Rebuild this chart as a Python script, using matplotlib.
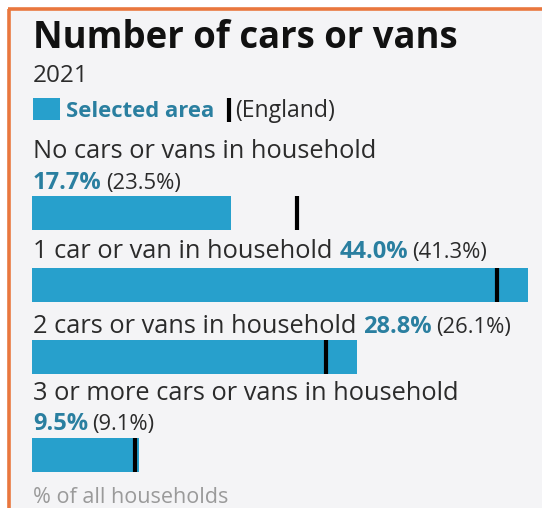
import matplotlib
matplotlib.use("Agg")
import matplotlib.pyplot as plt
from matplotlib.patches import Rectangle

# Data: share of households by number of cars or vans, 2021
categories = [
    "No cars or vans in household",
    "1 car or van in household",
    "2 cars or vans in household",
    "3 or more cars or vans in household",
]
area_pct = [17.7, 44.0, 28.8, 9.5]
england_pct = [23.5, 41.3, 26.1, 9.1]
# whether the value sits on its own line under the label
value_on_new_line = [True, False, False, True]

title = "Number of cars or vans"
subtitle = "2021"
legend_area = "Selected area"
legend_england = "(England)"
footer = "% of all households"

BAR_BLUE = "#27a0cc"
TEXT_TEAL = "#2a7fa0"
TEXT_DARK = "#2b2b2b"
BG = "#f4f4f6"
ORANGE = "#e9773e"

W, H = 542, 508
fig = plt.figure(figsize=(W / 100, H / 100), dpi=100)
fig.patch.set_facecolor("white")
ax = fig.add_axes([0, 0, 1, 1])
# x axis in percent (32 px left margin, 11.27 px per percentage point),
# y axis in pixels from the top
px_per_pct = 11.27
x0 = 32
ax.set_xlim(-x0 / px_per_pct, (W - x0) / px_per_pct)
ax.set_ylim(H, 0)
ax.axis("off")

fx = lambda px: (px - x0) / px_per_pct

# panel background and orange frame
ax.add_patch(Rectangle((fx(10), 10), (W - 10) / px_per_pct, H, facecolor=BG,
                       edgecolor="none", zorder=0.5))
ax.plot([fx(9.5), fx(9.5)], [H, 8.5], color=ORANGE, lw=2.6, zorder=1,
        solid_capstyle="butt")
ax.plot([fx(8.2), fx(W)], [8.5, 8.5], color=ORANGE, lw=2.6, zorder=1,
        solid_capstyle="butt")

FONT = ["Open Sans", "DejaVu Sans"]
tx = fx(33)

ax.text(tx, 48, title, fontsize=26.3, fontweight="bold", color="#111111",
        family=FONT, va="baseline", ha="left")
ax.text(tx, 82, subtitle, fontsize=17.5, color=TEXT_DARK, family=FONT,
        va="baseline", ha="left")

# legend
ax.add_patch(Rectangle((tx, 98), 27 / px_per_pct, 22, facecolor=BAR_BLUE,
                       edgecolor="none", zorder=2))
ax.text(fx(66), 117, legend_area, fontsize=15.8, fontweight="bold",
        color=TEXT_TEAL, family=FONT, va="baseline", ha="left")
ax.plot([fx(229), fx(229)], [98, 122], color="black", lw=3,
        solid_capstyle="butt", zorder=3)
ax.text(fx(235), 117, legend_england, fontsize=16.6, color=TEXT_DARK,
        family=FONT, va="baseline", ha="left")

# rows: label baseline, value baseline, bar top
label_base = [158, 258, 333, 400]
value_base = [189, 258, 333, 430]
bar_top = [196, 268, 340, 438]
bar_h = 34

LABEL_FS = 18.3
VAL_FS = 17
PAREN_FS = 15.8

for i, cat in enumerate(categories):
    lab = ax.text(tx, label_base[i], cat, fontsize=LABEL_FS, color=TEXT_DARK,
                  family=FONT, va="baseline", ha="left")
    val_str = f"{area_pct[i]:.1f}%"
    par_str = f"({england_pct[i]:.1f}%)"
    if value_on_new_line[i]:
        v = ax.text(tx, value_base[i], val_str, fontsize=VAL_FS,
                    fontweight="bold", color=TEXT_TEAL, family=FONT,
                    va="baseline", ha="left")
    else:
        v = ax.annotate(val_str, xy=(1, 0), xycoords=lab,
                        xytext=(5, 0), textcoords="offset points",
                        fontsize=VAL_FS, fontweight="bold", color=TEXT_TEAL,
                        family=FONT, va="bottom", ha="left")
    ax.annotate(par_str, xy=(1, 0), xycoords=v, fontsize=PAREN_FS,
                color=TEXT_DARK, family=FONT, va="bottom", ha="left",
                xytext=(3, 0.5), textcoords="offset points")

    yc = bar_top[i] + bar_h / 2
    ax.barh(yc, area_pct[i], height=bar_h, left=0, color=BAR_BLUE,
            edgecolor="none", zorder=2)
    ax.plot([england_pct[i], england_pct[i]], [bar_top[i], bar_top[i] + bar_h],
            color="black", lw=3, solid_capstyle="butt", zorder=3)

ax.text(tx, 503, footer, fontsize=15.5, color="#9a9a9a", family=FONT,
        va="baseline", ha="left")

fig.savefig("out.png", dpi=100, facecolor=fig.get_facecolor())
